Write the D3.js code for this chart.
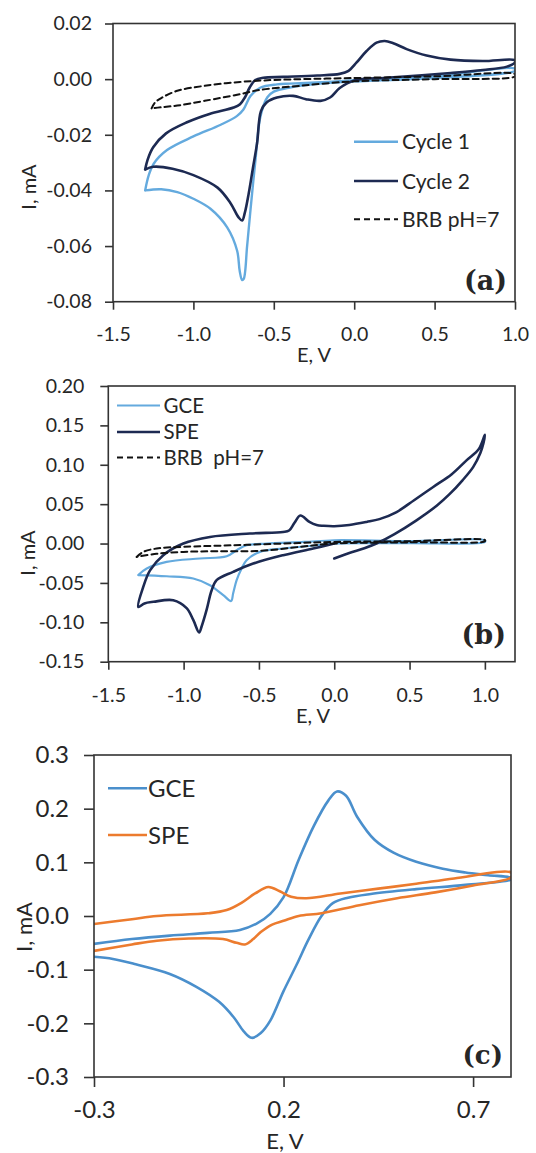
<!DOCTYPE html>
<html><head><meta charset="utf-8">
<script src="https://cdn.jsdelivr.net/npm/d3@7"></script>
<style>
body{margin:0;background:#fff;}
svg{display:block;}
text{font-family:Lato,"Open Sans",sans-serif;fill:#262626;}
</style></head><body>
<svg id="chart" width="536" height="1153"></svg>
<script>
// ---------- DATA (E in V, I in mA) ----------
// Panel (a)
const cycle1A = [[-1.30,-0.0400],[-1.278,-0.0346],[-1.247,-0.0304],[-1.164,-0.0255],[-1.00,-0.0206],[-0.83,-0.0164],[-0.73,-0.0133],[-0.69,-0.0110],[-0.645,-0.0061],[-0.585,-0.0031],[-0.48,-0.0019],[-0.40,-0.0016],[-0.20,-0.0011],[0.00,-0.0004],[0.50,0.0010],[1.00,0.0038],[1.00,0.0030],[0.50,0.0004],[0.00,-0.0008],[-0.20,-0.0015],[-0.40,-0.0030],[-0.50,-0.0045],[-0.54,-0.0065],[-0.583,-0.0134],[-0.614,-0.0290],[-0.645,-0.0470],[-0.666,-0.0600],[-0.687,-0.0718],[-0.697,-0.0722],[-0.712,-0.0690],[-0.728,-0.0617],[-0.79,-0.0533],[-0.894,-0.0466],[-1.00,-0.0430],[-1.10,-0.0406],[-1.20,-0.0396],[-1.30,-0.0400]];
const cycle2A = [[-1.30,-0.0325],[-1.285,-0.0290],[-1.25,-0.0245],[-1.17,-0.0195],[-1.04,-0.0155],[-0.90,-0.0125],[-0.75,-0.0102],[-0.71,-0.0090],[-0.68,-0.0066],[-0.65,-0.0030],[-0.615,-0.0003],[-0.565,0.0005],[-0.44,0.0008],[-0.23,0.0013],[-0.09,0.0019],[-0.035,0.0030],[0.015,0.0060],[0.077,0.0101],[0.139,0.0131],[0.19,0.0137],[0.243,0.0129],[0.326,0.0108],[0.45,0.0085],[0.60,0.0070],[0.80,0.0065],[1.00,0.0068],[1.00,0.0060],[0.95,0.0045],[0.80,0.0033],[0.60,0.0022],[0.40,0.0013],[0.20,0.0005],[0.00,-0.0005],[-0.09,-0.0032],[-0.15,-0.0066],[-0.21,-0.0078],[-0.30,-0.0072],[-0.38,-0.0060],[-0.48,-0.0066],[-0.545,-0.0084],[-0.58,-0.0115],[-0.604,-0.0230],[-0.63,-0.0320],[-0.656,-0.0411],[-0.68,-0.0480],[-0.697,-0.0508],[-0.72,-0.0496],[-0.77,-0.0445],[-0.85,-0.0390],[-1.00,-0.0345],[-1.13,-0.0322],[-1.25,-0.0315],[-1.30,-0.0325]];
const brbA = [[-1.26,-0.0105],[-1.24,-0.0085],[-1.20,-0.0068],[-1.10,-0.0042],[-0.93,-0.0024],[-0.71,-0.0010],[-0.50,-0.0003],[0.00,0.0004],[0.50,0.0010],[1.00,0.0018],[1.00,0.0010],[0.50,0.0000],[0.00,-0.0008],[-0.34,-0.0024],[-0.60,-0.0040],[-0.71,-0.0054],[-0.93,-0.0078],[-1.10,-0.0095],[-1.20,-0.0101],[-1.26,-0.0105]];
const xTicksA = [-1.5,-1.0,-0.5,0.0,0.5,1.0];
const yTicksA = [0.02,0.00,-0.02,-0.04,-0.06,-0.08];
const legendA = ["Cycle 1","Cycle 2","BRB pH=7"];

// Panel (b)
const gceB = [[-1.301,-0.0400],[-1.245,-0.0317],[-1.113,-0.0233],[-0.892,-0.0190],[-0.714,-0.0161],[-0.648,-0.0085],[-0.582,-0.0022],[-0.449,0.0000],[-0.20,0.0020],[0.00,0.0042],[0.50,0.0030],[1.00,0.0040],[1.00,0.0020],[0.50,0.0005],[0.00,0.0000],[-0.117,-0.0022],[-0.339,-0.0063],[-0.493,-0.0106],[-0.582,-0.0212],[-0.615,-0.0317],[-0.648,-0.0465],[-0.671,-0.0630],[-0.685,-0.0730],[-0.737,-0.0655],[-0.825,-0.0529],[-0.936,-0.0444],[-1.113,-0.0415],[-1.301,-0.0400]];
const speB = [[0.00,-0.0190],[0.10,-0.0120],[0.20,-0.0060],[0.28,0.0000],[0.40,0.0120],[0.546,0.0295],[0.68,0.0480],[0.767,0.0630],[0.85,0.0800],[0.922,0.0970],[0.97,0.1150],[0.99,0.1270],[1.00,0.1380],[0.96,0.1200],[0.878,0.1056],[0.78,0.0880],[0.657,0.0718],[0.53,0.0550],[0.414,0.0400],[0.30,0.0310],[0.215,0.0274],[0.10,0.0235],[0.00,0.0220],[-0.07,0.0225],[-0.117,0.0235],[-0.165,0.0275],[-0.225,0.0355],[-0.265,0.0260],[-0.30,0.0165],[-0.34,0.0147],[-0.56,0.0127],[-0.825,0.0084],[-1.002,0.0000],[-1.135,-0.0148],[-1.223,-0.0340],[-1.268,-0.0550],[-1.301,-0.0804],[-1.26,-0.0760],[-1.20,-0.0740],[-1.069,-0.0720],[-0.98,-0.0820],[-0.936,-0.0970],[-0.897,-0.1130],[-0.88,-0.1050],[-0.847,-0.0840],[-0.815,-0.0600],[-0.781,-0.0465],[-0.671,-0.0360],[-0.538,-0.0254],[-0.339,-0.0148],[-0.14,-0.0063],[0.00,0.0000]];
const brbB = [[-1.312,-0.0170],[-1.268,-0.0106],[-1.179,-0.0063],[-1.002,-0.0042],[-0.671,-0.0022],[-0.339,0.0000],[0.00,0.0020],[0.50,0.0030],[1.00,0.0045],[1.00,0.0030],[0.50,0.0015],[0.00,0.0000],[-0.228,-0.0042],[-0.493,-0.0093],[-0.781,-0.0098],[-1.002,-0.0106],[-1.179,-0.0130],[-1.312,-0.0170]];
const xTicksB = [-1.5,-1.0,-0.5,0.0,0.5,1.0];
const yTicksB = [0.20,0.15,0.10,0.05,0.00,-0.05,-0.10,-0.15];
const legendB = ["GCE","SPE","BRB  pH=7"];

// Panel (c)
const gceC = [[-0.30,-0.0520],[-0.20,-0.0430],[-0.10,-0.0365],[0.00,-0.0315],[0.085,-0.0260],[0.13,-0.0137],[0.165,0.0040],[0.20,0.0350],[0.24,0.1050],[0.28,0.1680],[0.318,0.2150],[0.341,0.2320],[0.365,0.2240],[0.394,0.1850],[0.44,0.1420],[0.49,0.1180],[0.55,0.1010],[0.62,0.0880],[0.68,0.0810],[0.74,0.0760],[0.80,0.0710],[0.80,0.0680],[0.68,0.0580],[0.55,0.0500],[0.43,0.0410],[0.37,0.0340],[0.33,0.0240],[0.30,0.0000],[0.265,-0.0450],[0.235,-0.0900],[0.20,-0.1400],[0.165,-0.1950],[0.14,-0.2180],[0.116,-0.2270],[0.095,-0.2150],[0.07,-0.1900],[0.03,-0.1600],[-0.03,-0.1320],[-0.10,-0.1080],[-0.19,-0.0900],[-0.25,-0.0800],[-0.30,-0.0760]];
const speC = [[-0.30,-0.0150],[-0.20,-0.0060],[-0.134,0.0000],[0.00,0.0050],[0.05,0.0110],[0.09,0.0250],[0.125,0.0420],[0.16,0.0540],[0.19,0.0460],[0.22,0.0360],[0.26,0.0330],[0.35,0.0420],[0.45,0.0510],[0.55,0.0600],[0.65,0.0700],[0.80,0.0810],[0.80,0.0720],[0.70,0.0570],[0.60,0.0440],[0.50,0.0330],[0.40,0.0200],[0.30,0.0050],[0.24,0.0000],[0.20,-0.0090],[0.17,-0.0160],[0.14,-0.0300],[0.12,-0.0430],[0.098,-0.0530],[0.076,-0.0500],[0.04,-0.0430],[-0.05,-0.0420],[-0.134,-0.0460],[-0.20,-0.0530],[-0.30,-0.0650]];
const xTicksC = [-0.3,0.2,0.7];
const yTicksC = [0.3,0.2,0.1,0.0,-0.1,-0.2,-0.3];
const legendC = ["GCE","SPE"];

// ---------- DRAWING ----------
const svg = d3.select("#chart");

function drawPanel(p){
  const x = d3.scaleLinear().domain(p.xDomain).range([p.left, p.right]);
  const y = d3.scaleLinear().domain(p.yDomain).range([p.bottom, p.top]);
  const g = svg.append("g");
  const cid = "clip" + p.id;
  g.append("clipPath").attr("id", cid).append("rect")
    .attr("x", p.left).attr("y", p.top)
    .attr("width", p.right - p.left).attr("height", p.bottom - p.top);

  const line = d3.line().x(d => x(d[0])).y(d => y(d[1]))
    .curve(d3.curveCatmullRom.alpha(0.5));
  const lines = g.append("g").attr("clip-path", `url(#${cid})`);
  p.series.forEach(s => {
    lines.append("path").datum(s.data).attr("d", line)
      .attr("fill", "none").attr("stroke", s.color)
      .attr("stroke-width", s.width)
      .attr("stroke-dasharray", s.dash || null)
      .attr("stroke-linejoin", "round").attr("stroke-linecap", "round");
  });

  // axes
  const ya = g.append("g").attr("transform", `translate(${p.left},0)`)
    .call(d3.axisLeft(y).tickValues(p.yTicks).tickSizeInner(p.tick).tickSizeOuter(0)
      .tickPadding(p.yPad).tickFormat(d => d.toFixed(p.yDec)));
  const xa = g.append("g").attr("transform", `translate(0,${p.bottom})`)
    .call(d3.axisBottom(x).tickValues(p.xTicks).tickSizeInner(p.tick).tickSizeOuter(0)
      .tickPadding(p.xPad).tickFormat(d => d.toFixed(1)));
  [ya, xa].forEach(a => {
    a.select(".domain").remove();
    a.selectAll("line").attr("stroke", "#333").attr("stroke-width", 1.6);
    a.selectAll("text").attr("font-size", p.tickFont).attr("fill", "#262626")
      .style("font-family", "Lato, 'Open Sans', sans-serif");
  });

  // frame
  g.append("rect").attr("x", p.left).attr("y", p.top)
    .attr("width", p.right - p.left).attr("height", p.bottom - p.top)
    .attr("fill", "none").attr("stroke", "#333").attr("stroke-width", 1.6);

  // axis titles
  g.append("text").attr("x", p.xTitle[0]).attr("y", p.xTitle[1])
    .attr("text-anchor", "middle").attr("font-size", p.titleFont).text("E, V");
  g.append("text").attr("transform", `translate(${p.yTitle[0]},${p.yTitle[1]}) rotate(-90)`)
    .attr("text-anchor", "middle").attr("font-size", p.titleFont).text("I, mA");

  // legend
  const lg = g.append("g");
  p.legend.forEach((name, i) => {
    const s = p.series.find(q => q.name === name);
    const yy = p.legendY[i];
    lg.append("line").attr("x1", p.legendX[0]).attr("x2", p.legendX[1])
      .attr("y1", yy).attr("y2", yy).attr("stroke", s.color)
      .attr("stroke-width", s.width).attr("stroke-dasharray", s.dash || null);
    lg.append("text").attr("x", p.legendX[2]).attr("y", yy).attr("dy", "0.36em")
      .attr("font-size", p.legendFont).style("white-space", "pre").text(name);
  });

  // panel tag
  g.append("text").attr("x", p.tag[0]).attr("y", p.tag[1]).attr("text-anchor", "end")
    .attr("font-size", p.tagFont).attr("font-weight", "bold")
    .style("font-family", "'DejaVu Serif', serif").attr("fill", "#1a1a1a").text(p.tagText);
}

const light = "#64aade", navy = "#1d2a52";

drawPanel({
  id: "a", xDomain: [-1.5, 1.0], yDomain: [-0.08, 0.02],
  left: 113, right: 515, top: 23.5, bottom: 301.7,
  xTicks: xTicksA, yTicks: yTicksA, yDec: 2, tick: 8, yPad: 13, xPad: 17,
  tickFont: 19.5, titleFont: 20, legendFont: 21, tagFont: 27,
  series: [
    {name: "Cycle 1", data: cycle1A, color: light, width: 2.4},
    {name: "Cycle 2", data: cycle2A, color: navy, width: 2.6},
    {name: "BRB pH=7", data: brbA, color: "#111", width: 2, dash: "6 4"}
  ],
  legend: legendA, legendX: [354, 398, 402], legendY: [141.7, 181, 219.3],
  xTitle: [314, 362], yTitle: [36, 187], tag: [507, 290], tagText: "(a)"
});

drawPanel({
  id: "b", xDomain: [-1.5, 1.2], yDomain: [-0.15, 0.20],
  left: 108.3, right: 515, top: 386, bottom: 661.7,
  xTicks: xTicksB, yTicks: yTicksB, yDec: 2, tick: 8, yPad: 16, xPad: 18,
  tickFont: 19.5, titleFont: 20, legendFont: 20.5, tagFont: 27,
  series: [
    {name: "GCE", data: gceB, color: light, width: 2.2},
    {name: "SPE", data: speB, color: navy, width: 2.6},
    {name: "BRB  pH=7", data: brbB, color: "#111", width: 2, dash: "6 4"}
  ],
  legend: legendB, legendX: [117, 160, 163.5], legendY: [405.5, 432, 457.5],
  xTitle: [313, 723], yTitle: [35, 553], tag: [506, 644], tagText: "(b)"
});

drawPanel({
  id: "c", xDomain: [-0.3, 0.8], yDomain: [-0.3, 0.3],
  left: 94, right: 511, top: 755, bottom: 1077,
  xTicks: xTicksC, yTicks: yTicksC, yDec: 1, tick: 10, yPad: 15, xPad: 14,
  tickFont: 24, titleFont: 22, legendFont: 24, tagFont: 26,
  series: [
    {name: "GCE", data: gceC, color: "#4a8fcc", width: 2.6},
    {name: "SPE", data: speC, color: "#ec7b2e", width: 2.6}
  ],
  legend: legendC, legendX: [108, 147, 148], legendY: [788.3, 835],
  xTitle: [285, 1149], yTitle: [32, 927], tag: [503, 1064], tagText: "(c)"
});
</script>
</body></html>
